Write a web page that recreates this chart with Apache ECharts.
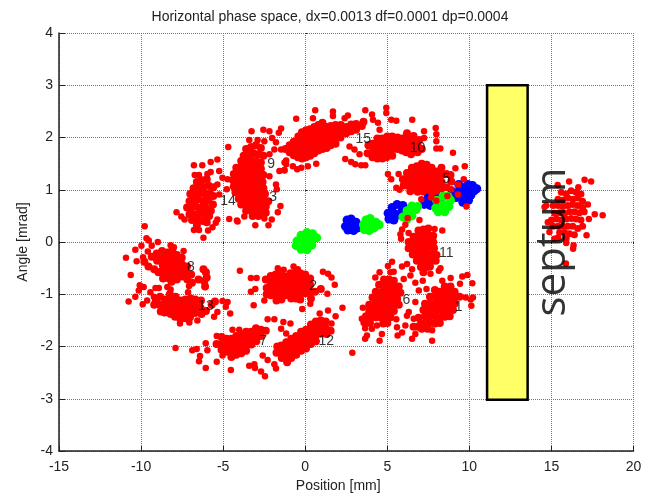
<!DOCTYPE html>
<html><head><meta charset="utf-8">
<style>html,body{margin:0;padding:0;background:#fff}#c{width:650px;height:498px}</style>
<script src="https://cdn.jsdelivr.net/npm/echarts@6/dist/echarts.min.js"></script>
</head><body><div id="c"></div>
<script>
const title = 'Horizontal phase space, dx=0.0013 df=0.0001 dp=0.0004';
const xTicks = [-15, 20];
const yTicks = [-4, 4];
const septumBox = [[11.08, 3], [13.55, -3.02]];
const septumLabel = [15.1, 0];
const labelPoints = [['1',9.35,-1.24],['2',0.49,-0.84],['3',-1.95,0.86],['5',8.6,1.2],['6',6.17,-1.12],['7',-2.57,-1.9],['8',-6.96,-0.48],['9',-2.08,1.49],['10',6.84,1.79],['11',8.6,-0.21],['12',1.28,-1.9],['13',-6.05,-1.22],['14',-4.7,0.78],['15',3.54,1.96]];

const blue = [[10.3,0.98],[10.2,1.08],[9.9,1.1],[10.1,0.9],[9.8,0.98],[9.5,1.05],[9.6,0.88],[9.3,0.95],[9.95,0.8],[9.6,0.76],[9.2,0.85],[8.95,0.97],[10.45,1.02],[9.35,1.1],
 [8.3,0.85],[8,0.78],[7.7,0.75],[7.4,0.8],[7.5,0.9],[7.85,0.9],[7.25,0.72],[7.6,0.7],
 [5.95,0.7],[5.6,0.72],[5.3,0.66],[5.05,0.55],[5.1,0.44],[5.4,0.42],[5.7,0.52],[5.4,0.55],[5.9,0.6],
 [2.55,0.42],[2.8,0.44],[3.1,0.38],[3.2,0.27],[2.95,0.22],[2.6,0.23],[2.45,0.3],[2.8,0.32]];
const green = [[0.7,0.08],[0.45,0.16],[0.1,0.18],[-0.25,0.13],[-0.5,0.02],[-0.55,-0.07],[-0.25,-0.14],[0.1,-0.15],[0.4,-0.06],[0,0],[0.3,0.05],[-0.2,0.03],
 [3.55,0.33],[3.6,0.24],[3.9,0.22],[4.2,0.27],[4.5,0.33],[4.3,0.38],[3.95,0.45],[3.7,0.42],[4,0.33],
 [5.95,0.48],[6.2,0.44],[6.5,0.5],[6.75,0.62],[6.85,0.68],[6.5,0.69],[6.2,0.6],[6.45,0.58],
 [8.85,0.8],[8.7,0.87],[8.4,0.88],[8,0.8],[7.95,0.65],[8.1,0.58],[8.5,0.58],[8.75,0.68],[8.4,0.72]];

const c8 = [[-9.78,0.3],[-9.67,0.07],[-9.53,0.03],[-8.98,0],[-9.98,-0.07],[-9.35,-0.07],[-10.35,-0.15],[-9.59,-0.18],[-8.2,-0.06],[-8,-0.1],[-7.41,-0.17],[-10.92,-0.3],[-10.27,-0.37],[-9.88,-0.29],[-10.63,-0.63],
 [-9.8,-0.38],[-9.35,-0.28],[-9.55,-0.47],[-9.05,-0.22],[-9.02,-0.36],[-9.2,-0.52],[-8.94,-0.58],[-8.72,-0.17],[-8.7,-0.31],[-8.68,-0.44],[-8.75,-0.56],[-8.66,-0.7],[-8.4,-0.2],[-8.43,-0.33],[-8.38,-0.45],[-8.42,-0.58],[-8.38,-0.69],[-8.1,-0.16],[-8.13,-0.28],[-8.08,-0.39],[-8.12,-0.52],[-8.07,-0.63],[-8.15,-0.76],[-7.82,-0.25],[-7.8,-0.37],[-7.84,-0.49],[-7.78,-0.6],[-7.82,-0.72],[-7.52,-0.3],[-7.5,-0.43],[-7.55,-0.54],[-7.48,-0.66],[-7.2,-0.47],[-7.25,-0.6],[-7.18,-0.72],[-6.95,-0.62],[-6.9,-0.78],[-6.2,-0.52],[-6.05,-0.58],[-6,-0.68],[-6.15,-0.75],[-6.1,-0.85],[-6.5,-0.72]];
const c13 = [[-10.76,-1.14],[-10.35,-1.05],[-10.14,-0.93],[-10.08,-0.83],[-9.84,-0.86],[-9.9,-1.19],[-9.63,-1.12],[-9.43,-0.96],[-9.22,-1.05],[-9.12,-0.88],[-8.92,-0.88],[-8.4,-0.86],[-8.2,-0.91],[-7.14,-0.96],[-7.08,-0.84],[-7.63,-1.56],[-7.06,-1.54],[-6.57,-1.5],[-5.55,-1.43],[-5.35,-1.34],[-4.84,-1.24],[-5.04,-1.13],[-4.57,-1.37],[-4.73,-1.15],
 [-9.2,-1.2],[-9.1,-1.12],[-8.85,-1.05],[-8.88,-1.2],[-8.8,-1.33],[-8.55,-1.1],[-8.5,-1.22],[-8.57,-1.35],[-8.25,-1],[-8.2,-1.12],[-8.27,-1.26],[-8.2,-1.38],[-7.9,-1.05],[-7.95,-1.18],[-7.87,-1.3],[-7.93,-1.43],[-7.6,-1.12],[-7.63,-1.25],[-7.57,-1.36],[-7.6,-1.48],[-7.3,-1.1],[-7.28,-1.22],[-7.32,-1.34],[-7.27,-1.46],[-6.98,-1.08],[-7,-1.2],[-6.95,-1.32],[-7.02,-1.44],[-6.7,-1.1],[-6.66,-1.24],[-6.72,-1.36],[-6.35,-1.12],[-6.38,-1.26],[-6.32,-1.38],[-6.05,-1.32],[-5.7,-1.2],[-5.5,-1.14]];
const c14 = [[-6.78,1.47],[-6.27,1.47],[-5.76,1.53],[-5.35,1.58],[-6.73,1.28],[-6.47,1.28],[-5.96,1.3],[-5.76,1.34],[-5.24,1.36],[-7.84,0.57],[-7.55,0.49],[-7.35,0.43],[-6.78,0.23],[-6.47,0.23],[-6.2,0.08],[-5.92,0.22],[-5.65,0.28],[-5.45,0.37],[-5.35,0.43],[-5.24,0.91],[-5.35,1.1],[-5.04,1.23],[-4.73,1.2],[-4.78,1.01],[-4.63,0.44],[-4.16,0.41],
 [-6.6,1.15],[-6.3,1.18],[-6,1.2],[-6.8,1.03],[-6.5,1.06],[-6.2,1.05],[-5.9,1.08],[-5.6,1.05],[-7,0.92],[-6.72,0.93],[-6.42,0.95],[-6.12,0.92],[-5.82,0.94],[-5.6,0.88],[-7.05,0.78],[-6.8,0.8],[-6.5,0.82],[-6.2,0.78],[-5.9,0.8],[-5.62,0.72],[-7.2,0.66],[-6.95,0.66],[-6.65,0.68],[-6.35,0.66],[-6.05,0.66],[-5.75,0.6],[-7.05,0.53],[-6.75,0.53],[-6.45,0.55],[-6.15,0.53],[-5.85,0.5],[-6.9,0.42],[-6.55,0.42],[-6.25,0.4],[-6,0.38],[-6.6,0.32]];
const c3 = [[-4.69,1.82],[-3.27,2.12],[-2.55,2.15],[-2.18,2.12],[-1.47,2.17],[-1.61,2.09],[-3.41,1.95],[-2.9,1.95],[-2.49,1.93],[-2.02,1.99],[-1.78,1.91],[-1.88,1.77],[-2.18,1.68],[-1.16,1.49],[-1.57,1.36],[-1.27,1.38],[-1.78,1.1],[-1.73,1.01],[-2.18,1.26],[-1.51,0.69],[-1.67,0.57],[-2.04,0.43],[-2.24,0.32],[-3.04,0.32],[-3.71,0.49],[-4.12,0.39],[-2.49,0.45],
 [-3.6,1.78],[-3.3,1.82],[-3,1.85],[-2.7,1.8],[-3.75,1.65],[-3.45,1.68],[-3.15,1.7],[-2.85,1.68],[-2.55,1.65],[-3.9,1.55],[-3.6,1.55],[-3.3,1.57],[-3,1.55],[-2.7,1.52],[-4.2,1.42],[-3.9,1.43],[-3.6,1.44],[-3.3,1.44],[-3,1.42],[-2.7,1.4],[-4.35,1.3],[-4.05,1.32],[-3.75,1.32],[-3.45,1.31],[-3.15,1.32],[-2.85,1.3],[-2.55,1.28],[-4.4,1.18],[-4.1,1.2],[-3.8,1.2],[-3.5,1.2],[-3.2,1.2],[-2.9,1.18],[-2.6,1.15],[-4.35,1.06],[-4.05,1.08],[-3.75,1.08],[-3.45,1.08],[-3.15,1.07],[-2.85,1.06],[-2.55,1.03],[-4.25,0.95],[-3.95,0.96],[-3.65,0.96],[-3.35,0.96],[-3.05,0.95],[-2.75,0.94],[-2.45,0.92],[-4.05,0.83],[-3.75,0.84],[-3.45,0.84],[-3.15,0.84],[-2.85,0.82],[-2.55,0.82],[-2.25,0.78],[-3.9,0.72],[-3.6,0.72],[-3.3,0.72],[-3,0.72],[-2.7,0.7],[-2.4,0.68],[-3.6,0.6],[-3.3,0.6],[-3,0.6],[-2.7,0.56],[-2.4,0.56],[-3.2,0.5],[-2.85,0.5]];
const c15 = [[-1.47,1.77],[-0.55,2.36],[0.61,2.52],[0.47,2.37],[1.69,2.5],[1.69,2.41],[2.4,2.37],[2.6,2.42],[-1.26,1.52],[-1.16,1.56],[-1.26,1.37],[-0.75,1.45],[-0.49,1.39],[-0.24,1.42],[0.16,1.45],[0.67,1.5],[2.44,1.59],[2.8,1.53],[3.05,1.49],[3.41,1.47],[3.66,1.47],[2.7,1.83],[3,1.77],[3.31,1.68],
 [-1.2,1.78],[-0.95,1.72],[-0.95,1.85],[-0.7,1.66],[-0.7,1.78],[-0.7,1.92],[-0.45,1.62],[-0.45,1.75],[-0.45,1.88],[-0.42,2.02],[-0.2,1.6],[-0.2,1.72],[-0.18,1.85],[-0.2,1.98],[-0.2,2.1],[0.05,1.62],[0.05,1.75],[0.07,1.88],[0.05,2.02],[0.05,2.14],[0.3,1.65],[0.3,1.78],[0.32,1.9],[0.3,2.04],[0.3,2.16],[0.55,1.7],[0.55,1.83],[0.57,1.96],[0.55,2.08],[0.55,2.2],[0.8,1.75],[0.8,1.88],[0.82,2],[0.8,2.12],[0.8,2.24],[1.05,1.78],[1.05,1.92],[1.07,2.05],[1.05,2.17],[1.05,2.28],[1.3,1.8],[1.3,1.94],[1.32,2.06],[1.3,2.2],[1.55,1.85],[1.55,1.98],[1.57,2.1],[1.55,2.22],[1.85,1.88],[1.85,2],[1.87,2.12],[1.85,2.24],[2.15,2],[2.15,2.12],[2.17,2.24],[2.5,2.08],[2.5,2.2],[2.8,2.12],[2.8,2.25],[3.1,2.15],[3.1,2.26],[3.45,2.22],[3.55,2.3]];
const c10 = [[3.66,2.52],[4.07,2.44],[4.13,2.34],[4.43,2.28],[4.53,2.15],[4.94,2.57],[4.94,2.47],[5.24,2.34],[5.55,2.32],[6.52,2.34],[7.95,2.18],[7.99,2.06],[7.99,1.93],[7.99,1.79],[8.23,1.79],[7.24,2.12],[7.24,1.99],[9,1.71],
 [3.8,1.7],[3.85,1.85],[4.1,1.62],[4.15,1.75],[4.1,1.88],[4.4,1.6],[4.4,1.73],[4.43,1.86],[4.4,1.98],[4.7,1.6],[4.7,1.73],[4.72,1.86],[4.7,1.98],[4.95,1.62],[5,1.75],[5,1.88],[5,2.02],[5.3,1.65],[5.3,1.78],[5.32,1.9],[5.3,2.02],[5.6,1.78],[5.6,1.9],[5.62,2],[5.9,1.75],[5.9,1.87],[5.92,1.98],[6.15,1.72],[6.2,1.85],[6.2,1.97],[6.2,2.08],[6.45,1.68],[6.5,1.8],[6.55,1.93],[6.6,2.03],[6.85,1.72],[6.85,1.85],[6.95,1.95],[7.1,1.78]];
const c5 = [[5.04,1.3],[5.24,1.2],[5.55,1.04],[5.75,1],[5.69,1.3],[9.15,1.41],[9.72,1.45],[9.66,1.2],[9.31,1.1],[7.17,0.95],[7.07,0.82],[7.68,0.85],[7.99,0.79],[8.66,0.88],[8.9,1.01],[9.3,0.91],[9.82,0.68],
 [5.95,1.2],[6,1.08],[6.2,1.32],[6.22,1.2],[6.25,1.08],[6.4,0.97],[6.5,1.42],[6.5,1.3],[6.5,1.18],[6.55,1.06],[6.8,1.45],[6.8,1.33],[6.8,1.2],[6.82,1.08],[6.85,0.96],[7.1,1.5],[7.1,1.38],[7.1,1.26],[7.12,1.14],[7.15,1.04],[7.4,1.48],[7.4,1.36],[7.4,1.24],[7.42,1.12],[7.45,1],[7.7,1.42],[7.7,1.3],[7.72,1.18],[7.7,1.06],[7.72,0.95],[8,1.35],[8,1.22],[8.02,1.1],[8,0.98],[8.3,1.42],[8.3,1.28],[8.3,1.15],[8.32,1.03],[8.6,1.3],[8.6,1.05],[8.85,1.28],[8.9,1.16]];
const c11 = [[6.24,0.46],[6.1,0.33],[6.96,0.42],[5.9,0.24],[5.8,0.15],[5.84,0.06],[6.3,0.17],[8.35,0.22],[7.88,0.25],[8.24,-0.5],[8.14,-0.55],[5.29,-0.38],[5.04,-0.46],[5.9,-0.47],[6.2,-0.42],[6.51,-0.52],[6.41,-0.64],[6.71,-0.78],[7.16,-0.74],[7.63,-0.61],
 [6.9,0.22],[7.2,0.24],[7.5,0.26],[6.6,0.1],[6.9,0.1],[7.2,0.12],[7.5,0.14],[7.8,0.12],[6.3,0],[6.6,-0.02],[6.9,-0.01],[7.2,0],[7.5,0.02],[7.8,0],[6.3,-0.12],[6.6,-0.13],[6.9,-0.12],[7.2,-0.12],[7.5,-0.1],[7.85,-0.12],[6.55,-0.24],[6.85,-0.25],[7.15,-0.24],[7.45,-0.24],[7.75,-0.24],[8,-0.25],[6.8,-0.36],[7.1,-0.36],[7.4,-0.37],[7.7,-0.36],[7.95,-0.36],[7.05,-0.48],[7.35,-0.49],[7.6,-0.47],[7.2,-0.58]];
const c6 = [[4.53,-0.58],[4.27,-0.68],[5.39,-0.57],[5.2,-0.58],[6,-0.71],[3.51,-1.26],[3.45,-1.47],[3.65,-1.65],[3.76,-1.79],[3.65,-1.85],[4.53,-1.89],[4.67,-1.76],[4.06,-1.66],[4.37,-1.6],[5.55,-1.48],[5.59,-1.63],[5.9,-1.73],[5.63,-1.79],
 [4.8,-0.72],[5.1,-0.72],[5.4,-0.74],[4.5,-0.82],[4.8,-0.84],[5.1,-0.84],[5.4,-0.86],[5.7,-0.85],[4.3,-0.95],[4.6,-0.96],[4.9,-0.96],[5.2,-0.96],[5.5,-0.97],[5.8,-0.97],[4.1,-1.06],[4.4,-1.08],[4.7,-1.08],[5,-1.08],[5.3,-1.08],[5.6,-1.09],[3.9,-1.2],[4.2,-1.2],[4.5,-1.2],[4.8,-1.2],[5.1,-1.2],[5.4,-1.2],[5.7,-1.2],[3.9,-1.32],[4.2,-1.32],[4.5,-1.32],[4.8,-1.32],[5.1,-1.32],[5.4,-1.32],[3.7,-1.42],[4,-1.44],[4.3,-1.44],[4.6,-1.44],[4.9,-1.44],[5.2,-1.44],[3.6,-1.54],[3.95,-1.55],[4.75,-1.56],[5,-1.55]];
const c1 = [[10.18,-0.79],[9.88,-0.63],[9.57,-0.66],[9.43,-0.8],[8.86,-0.69],[8.35,-0.74],[10.22,-1.06],[10.08,-1.1],[10.12,-1.22],[9.78,-1.06],[6.92,-0.93],[7.39,-0.9],[6.71,-1.15],[6.61,-1.47],[6.2,-1.41],[6.1,-1.6],[6.71,-1.76],[6.51,-1.85],[7.73,-1.89],[7.73,-1.69],[7.02,-1.54],[6.31,-1.34],
 [8.5,-0.85],[8.85,-0.85],[7.9,-0.92],[8.2,-0.95],[8.5,-0.97],[8.8,-0.97],[9.1,-0.95],[7.6,-1.05],[7.9,-1.05],[8.2,-1.07],[8.5,-1.08],[8.8,-1.08],[9.1,-1.07],[9.4,-1.05],[7.3,-1.18],[7.6,-1.18],[7.9,-1.18],[8.2,-1.19],[8.5,-1.2],[8.8,-1.2],[9.1,-1.18],[7.2,-1.3],[7.5,-1.3],[7.8,-1.3],[8.1,-1.3],[8.4,-1.32],[8.7,-1.32],[9,-1.3],[7.3,-1.42],[7.6,-1.42],[7.9,-1.42],[8.2,-1.44],[8.5,-1.43],[8.8,-1.42],[6.9,-1.45],[7.3,-1.55],[7.6,-1.55],[7.9,-1.56],[8.2,-1.55],[6.85,-1.62],[7.1,-1.66],[7.45,-1.66],[6.6,-1.62]];
const c2 = [[-3.98,-0.55],[-3.31,-0.69],[-2.96,-0.69],[-3.31,-0.95],[-3.04,-0.9],[-3.14,-1.21],[-2.49,-1.12],[-0.18,-1.28],[0.31,-1.18],[1.08,-0.57],[1.39,-0.61],[1.35,-0.99],[1.8,-0.82],[1.6,-0.68],[-1.67,-0.5],[-1.31,-0.53],[-0.71,-0.47],[-0.45,-0.52],
 [-2.4,-0.72],[-2.35,-0.88],[-2.35,-1],[-2.1,-0.65],[-2.1,-0.78],[-2.05,-0.9],[-2.1,-1.02],[-1.8,-0.62],[-1.8,-0.75],[-1.77,-0.88],[-1.8,-1],[-1.75,-1.12],[-1.5,-0.6],[-1.5,-0.73],[-1.47,-0.86],[-1.5,-0.98],[-1.45,-1.1],[-1.2,-0.66],[-1.2,-0.78],[-1.17,-0.9],[-1.2,-1.02],[-0.9,-0.6],[-0.9,-0.72],[-0.88,-0.85],[-0.9,-0.97],[-0.85,-1.08],[-0.6,-0.58],[-0.6,-0.7],[-0.58,-0.82],[-0.6,-0.95],[-0.55,-1.08],[-0.3,-0.6],[-0.3,-0.72],[-0.28,-0.84],[-0.3,-0.96],[-0.3,-1.1],[0,-0.62],[0,-0.74],[0.02,-0.86],[0,-0.98],[0.3,-0.7],[0.3,-0.82],[0.32,-0.95],[0.35,-1.08],[0.6,-0.95],[0.95,-0.9]];
const c7 = [[-7.9,-2.03],[-6.88,-2.07],[-6.61,-2.05],[-6.06,-1.94],[-5.96,-2.07],[-6.41,-2.18],[-6.47,-2.28],[-5.39,-2.29],[-6.06,-2.41],[-4.53,-2.45],[-5.04,-2.17],[-4.43,-1.68],[-4.02,-1.68],[-5.39,-1.8],[-3.41,-2.37],[-3.1,-2.34],[-3.06,-2.41],[-2.69,-2.48],[-2.45,-2.57],[-2.59,-2.17],[-2.29,-2.26],[-1.88,-2.34],[-1.78,-2.42],
 [-5.4,-1.95],[-5.1,-1.82],[-5.1,-1.95],[-5.1,-2.06],[-4.8,-1.85],[-4.8,-1.97],[-4.78,-2.1],[-4.5,-1.85],[-4.5,-1.97],[-4.48,-2.1],[-4.5,-2.2],[-4.2,-1.8],[-4.2,-1.92],[-4.18,-2.04],[-4.2,-2.16],[-3.9,-1.78],[-3.9,-1.9],[-3.88,-2.02],[-3.9,-2.13],[-3.6,-1.72],[-3.6,-1.84],[-3.58,-1.96],[-3.6,-2.08],[-3.3,-1.72],[-3.3,-1.84],[-3.28,-1.96],[-3,-1.65],[-3,-1.78],[-2.98,-1.9],[-2.7,-1.68],[-2.7,-1.8],[-2.4,-1.7]];
const c12 = [[-2.29,-1.48],[-1.88,-1.48],[-1.33,-1.53],[-0.9,-1.56],[-1.47,-1.66],[-1.16,-1.75],[0.88,-1.37],[1.39,-1.31],[1.6,-1.56],[1.85,-1.42],[2.27,-1.26],[2.87,-2.12],
 [-1.7,-2],[-1.75,-2.12],[-1.45,-1.98],[-1.45,-2.1],[-1.43,-2.22],[-1.15,-1.92],[-1.15,-2.05],[-1.13,-2.18],[-1.1,-2.3],[-0.85,-1.85],[-0.85,-1.98],[-0.83,-2.1],[-0.85,-2.22],[-0.55,-1.8],[-0.55,-1.92],[-0.53,-2.05],[-0.55,-2.16],[-0.25,-1.72],[-0.25,-1.85],[-0.23,-1.98],[-0.25,-2.08],[0.05,-1.68],[0.05,-1.8],[0.07,-1.92],[0.05,-2.04],[0.35,-1.58],[0.35,-1.7],[0.37,-1.82],[0.35,-1.95],[0.65,-1.52],[0.65,-1.65],[0.67,-1.78],[0.65,-1.9],[0.95,-1.5],[0.95,-1.62],[0.97,-1.75],[1.25,-1.52],[1.25,-1.65],[1.55,-1.7],[1.3,-1.76]];
const cSeptum = [[17.02,1.19],[17.42,1.16],[16.08,1.16],[15.38,1.09],[16.64,1.05],[17.64,0.53],[18.12,0.51],[17.22,0.72],[17.28,0.44],[17.14,0.13],[16.32,-0.13],[15.88,-0.41],[14.68,0.7],[14.58,0.67],[14.78,0.38],[15.18,0.06],[14.88,0.19],[16.35,-0.06],[15.9,-0.02],
 [15.6,0.95],[15.9,0.92],[16.2,0.98],[16.5,0.95],[16.8,0.92],[15.4,0.82],[15.7,0.8],[16,0.84],[16.3,0.82],[16.6,0.84],[16.9,0.78],[15.1,0.7],[15.4,0.7],[15.7,0.68],[16,0.7],[16.3,0.72],[16.6,0.7],[16.9,0.66],[15.2,0.55],[15.5,0.56],[15.8,0.55],[16.1,0.58],[16.4,0.58],[16.7,0.56],[17,0.58],[15,0.42],[15.3,0.44],[15.6,0.42],[15.9,0.44],[16.2,0.45],[16.5,0.44],[16.8,0.42],[15.1,0.3],[15.4,0.3],[15.7,0.3],[16,0.3],[16.3,0.3],[16.6,0.26],[16.9,0.3],[15.5,0.18],[15.8,0.18],[16.1,0.16],[16.4,0.14],[15.4,0.08],[15.9,0.06]];

const reds = [c1, c2, c3, c5, c6, c7, c8, c10, c11, c12, c13, c14, c15, cSeptum];
const outerCounts = [22, 18, 27, 17, 18, 23, 15, 18, 20, 12, 24, 26, 24, 19];
const font = '"Liberation Sans", Arial, sans-serif';

const grid = {left: 59, right: 16.5, top: 33, bottom: 44.5, containLabel: false};
const dotted = {show: true, lineStyle: {color: '#777', width: 1, type: [1, 1]}};
const xAxisBase = {type: 'value', min: xTicks[0], max: xTicks[1], interval: 5};
const yAxisBase = {type: 'value', min: yTicks[0], max: yTicks[1], interval: 1};

const option = {
  animation: false,
  backgroundColor: '#fff',
  title: {text: title, left: 325, top: 5, textAlign: 'center', textStyle: {fontFamily: font, fontSize: 14, fontWeight: 'normal', color: '#222'}},
  grid,
  xAxis: [
    {...xAxisBase, position: 'bottom', name: 'Position [mm]', nameLocation: 'middle', nameGap: 28,
     nameTextStyle: {fontFamily: font, fontSize: 14, color: '#222', padding: [0, 16, 0, 0]},
     axisLine: {show: true, onZero: false, lineStyle: {color: '#222', width: 1.5}},
     axisTick: {show: true, inside: true, length: 5, lineStyle: {color: '#222'}},
     axisLabel: {fontFamily: font, fontSize: 14, color: '#222', margin: 9, showMinLabel: true, showMaxLabel: true},
     splitLine: dotted},
    {...xAxisBase, position: 'top',
     axisLine: {show: false}, axisTick: {show: true, inside: true, length: 2, lineStyle: {color: '#222'}},
     axisLabel: {show: false}, splitLine: {show: false}}
  ],
  yAxis: [
    {...yAxisBase, position: 'left', name: 'Angle [mrad]', nameLocation: 'middle', nameGap: 29,
     nameTextStyle: {fontFamily: font, fontSize: 14, color: '#222'},
     axisLine: {show: true, onZero: false, lineStyle: {color: '#222', width: 1.5}},
     axisTick: {show: true, inside: true, length: 6, lineStyle: {color: '#222'}},
     axisLabel: {fontFamily: font, fontSize: 14, color: '#222', margin: 6, showMinLabel: true, showMaxLabel: true},
     splitLine: dotted},
    {...yAxisBase, position: 'right',
     axisLine: {show: false}, axisTick: {show: true, inside: false, length: 2, lineStyle: {color: '#222'}},
     axisLabel: {show: false}, splitLine: {show: false}}
  ],
  series: [
    {type: 'scatter', name: 'blue', data: blue, symbolSize: 9, itemStyle: {color: '#0000ff', opacity: 1}, z: 3, silent: true},
    {type: 'scatter', name: 'green', data: green, symbolSize: 9, itemStyle: {color: '#00ff00', opacity: 1}, z: 4, silent: true},
    ...reds.map((d, i) => ({type: 'scatter', name: 'red' + i, data: d,
      symbolSize: (v, p) => p.dataIndex < outerCounts[i] ? 6.5 : (d === cSeptum ? 7 : 8),
      itemStyle: {color: '#ff0000', opacity: 1}, z: 5, silent: true})),
    {type: 'scatter', name: 'septum box', data: [], z: 2, silent: true,
     markArea: {silent: true, z: 2, itemStyle: {color: '#ffff66', borderColor: '#000', borderWidth: 2.5, opacity: 1},
       data: [[{coord: septumBox[0]}, {coord: septumBox[1]}]]}},
    {type: 'scatter', name: 'numbers', symbolSize: 0, z: 6, silent: true,
     data: labelPoints.map(p => ({value: [p[1], p[2]], name: p[0]})),
     label: {show: true, position: 'inside', formatter: p => p.name, fontFamily: font, fontSize: 14, color: '#000'}},
    {type: 'scatter', name: 'septum text', symbolSize: 0, z: 7, silent: true,
     data: [{value: septumLabel, name: 'septum'}],
     label: {show: true, position: 'inside', rotate: 90, formatter: p => p.name, fontFamily: '"Open Sans", sans-serif', fontSize: 42, color: '#000'}}
  ]
};
echarts.init(document.getElementById('c'), null, {renderer: 'canvas'}).setOption(option);
</script></body></html>
